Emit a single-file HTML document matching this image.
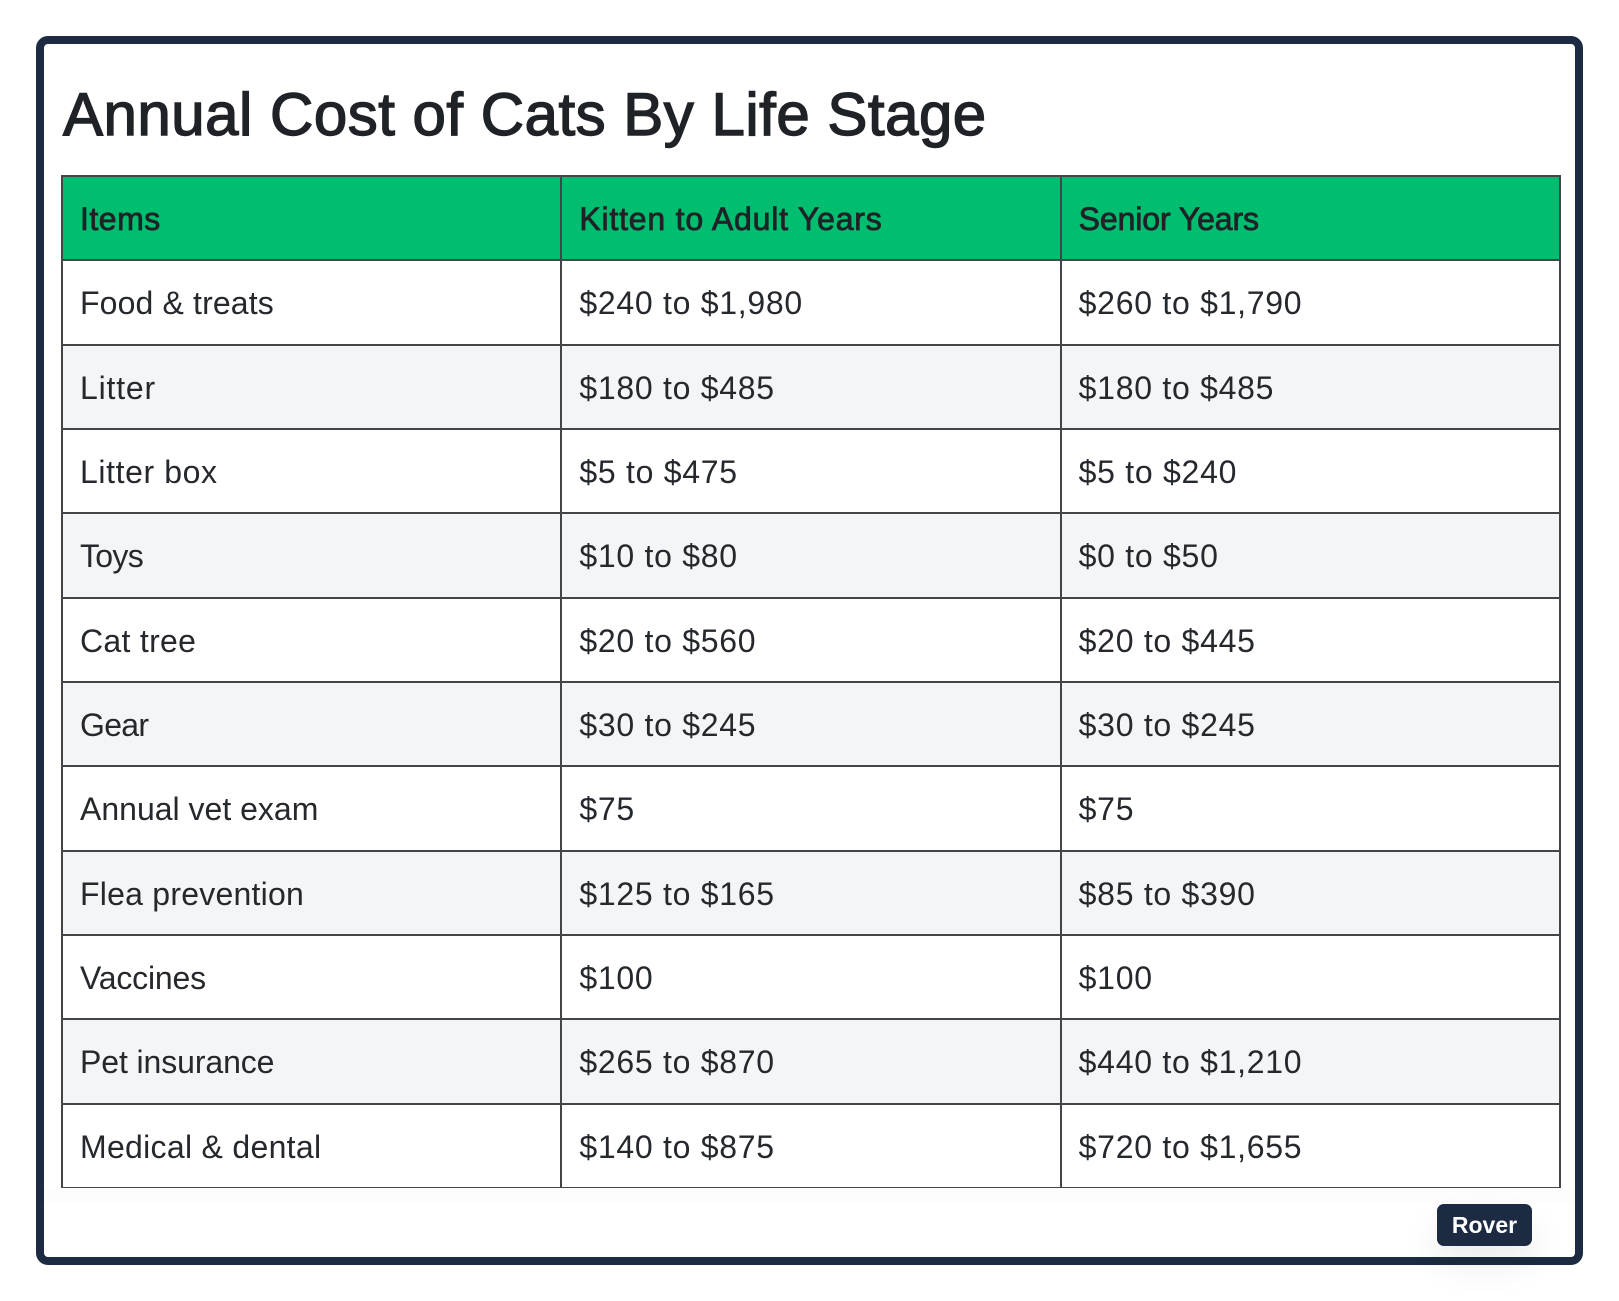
<!DOCTYPE html>
<html lang="en">
<head>
<meta charset="utf-8">
<title>Annual Cost of Cats By Life Stage</title>
<style>
  html, body { margin: 0; padding: 0; background: #fff; }
  body { width: 1619px; height: 1301px; position: relative; overflow: hidden; font-family: "Liberation Sans", sans-serif; color: #25282c; }
  .frame { position: absolute; left: 36px; top: 36px; width: 1531px; height: 1213px; border: 8px solid #1c2b41; border-radius: 12px; background: #fff; }
  h1 { position: absolute; left: 63px; top: 80px; margin: 0; font-size: 60px; line-height: 70px; font-weight: 400; letter-spacing: 0.5px; color: #1f2226; -webkit-text-stroke: 1.4px #1f2226; white-space: nowrap; }
  .band { position: absolute; left: 44px; top: 1188px; width: 1531px; height: 16px; background: #fdfdfd; }
  table { position: absolute; left: 61px; top: 175px; width: 1498px; table-layout: fixed; border-collapse: collapse; font-size: 32px; }
  col { width: 499.33px; }
  th, td { border: 2px solid #444548; padding: 3px 0 0 17px; text-align: left; vertical-align: middle; white-space: nowrap; letter-spacing: 0.3px; box-sizing: border-box; }
  td.num { letter-spacing: 0.72px; }
  th { background: #00bd70; font-weight: 400; color: #1f2226; -webkit-text-stroke: 0.8px #1f2226; letter-spacing: 0.5px; padding-top: 2px; }
  tr { height: 84.33px; }
  tbody tr:nth-child(even) td { background: #f4f5f7; }
  .badge { position: absolute; left: 1437px; top: 1204px; width: 95px; height: 42px; border-radius: 7px; background: #1c2b41; color: #fff; font-weight: 700; font-size: 23px; line-height: 42px; text-align: center; box-shadow: 0 18px 34px rgba(0,0,0,0.08); }
</style>
</head>
<body>
  <div class="frame"></div>
  <h1>Annual Cost of Cats By Life Stage</h1>
  <table>
    <colgroup><col><col><col></colgroup>
    <thead>
      <tr><th>Items</th><th style="letter-spacing:0.8px">Kitten to Adult Years</th><th style="letter-spacing:-0.1px">Senior Years</th></tr>
    </thead>
    <tbody>
      <tr><td style="letter-spacing:0.14px">Food &amp; treats</td><td class="num">$240 to $1,980</td><td class="num">$260 to $1,790</td></tr>
      <tr><td style="letter-spacing:0.8px">Litter</td><td class="num">$180 to $485</td><td class="num">$180 to $485</td></tr>
      <tr><td style="letter-spacing:0.6px">Litter box</td><td class="num">$5 to $475</td><td class="num">$5 to $240</td></tr>
      <tr><td style="letter-spacing:-0.7px">Toys</td><td class="num">$10 to $80</td><td class="num">$0 to $50</td></tr>
      <tr><td>Cat tree</td><td class="num">$20 to $560</td><td class="num">$20 to $445</td></tr>
      <tr><td style="letter-spacing:-0.7px">Gear</td><td class="num">$30 to $245</td><td class="num">$30 to $245</td></tr>
      <tr><td style="letter-spacing:0">Annual vet exam</td><td class="num">$75</td><td class="num">$75</td></tr>
      <tr><td style="letter-spacing:0.23px">Flea prevention</td><td class="num">$125 to $165</td><td class="num">$85 to $390</td></tr>
      <tr><td style="letter-spacing:-0.2px">Vaccines</td><td class="num">$100</td><td class="num">$100</td></tr>
      <tr><td style="letter-spacing:-0.1px">Pet insurance</td><td class="num">$265 to $870</td><td class="num">$440 to $1,210</td></tr>
      <tr><td>Medical &amp; dental</td><td class="num">$140 to $875</td><td class="num">$720 to $1,655</td></tr>
    </tbody>
  </table>
  <div class="band"></div>
  <div class="badge">Rover</div>
</body>
</html>
